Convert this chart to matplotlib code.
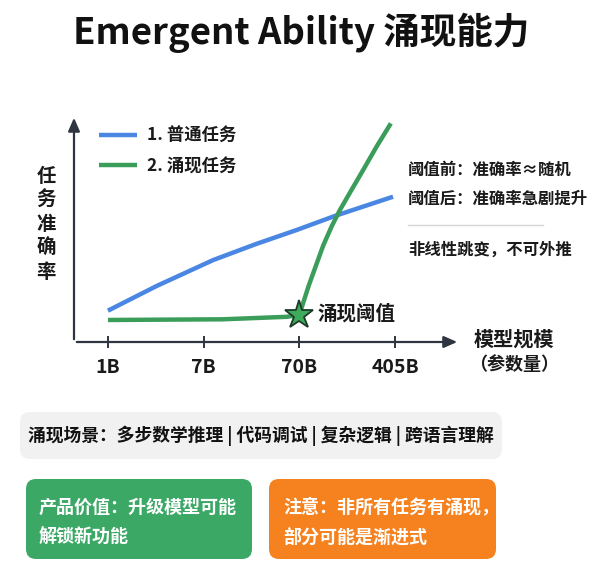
import matplotlib
matplotlib.use('Agg')
import matplotlib.pyplot as plt
from matplotlib.patches import FancyBboxPatch

plt.rcParams['font.family'] = ['Noto Sans CJK SC', 'DejaVu Sans']
plt.rcParams['font.weight'] = 'bold'

# 数据
model_sizes = ['1B', '7B', '70B', '405B']
normal_x = [0, 0.51, 1.10, 1.55, 1.97, 2.37, 2.98]
normal_y = [13.8, 24.7, 36.1, 43.2, 49.3, 55.5, 64.0]
emergent_x = [0, 1.2, 1.87, 2.0, 2.1, 2.25, 2.337, 2.424, 2.546, 2.668, 2.807, 2.957]
emergent_y = [9.7, 10.0, 11.1, 11.9, 25.0, 42.5, 50.8, 58.1, 67.0, 75.8, 86.0, 96.3]
threshold_x = [2]
threshold_y = [11.9]
series_labels = ['1. 普通任务', '2. 涌现任务']

BLUE = '#4a87e3'
GREEN = '#3a9d5a'
AXIS = '#2e3440'

W, H = 602, 570
fig = plt.figure(figsize=(W / 100, H / 100), dpi=100)
fig.patch.set_facecolor('white')

# 背景层，用像素坐标放文字和方框
bg = fig.add_axes([0, 0, 1, 1])
bg.set_xlim(0, W)
bg.set_ylim(H, 0)
bg.axis('off')

# 主图坐标轴
ax = fig.add_axes([74 / W, (H - 342) / H, 386 / W, 227 / H])
ax.set_xlim(-0.355, 3.68)
ax.set_ylim(0, 100)
ax.patch.set_alpha(0)
for s in ax.spines.values():
    s.set_visible(False)

ax.annotate('', xy=(0, 1), xytext=(0, 0), xycoords='axes fraction',
            arrowprops=dict(arrowstyle='-|>,head_length=0.8,head_width=0.35', color=AXIS, lw=1.6))
ax.annotate('', xy=(1, 0), xytext=(0, 0), xycoords='axes fraction',
            arrowprops=dict(arrowstyle='-|>,head_length=0.8,head_width=0.35', color=AXIS, lw=1.6))

ax.set_xticks(range(len(model_sizes)))
ax.set_xticklabels(model_sizes)
ax.set_yticks([])
ax.tick_params(axis='x', direction='inout', length=9, width=1.4, color=AXIS,
               labelsize=14, labelcolor='#1a1a1a', pad=7)

l1, = ax.plot(normal_x, normal_y, color=BLUE, lw=3.2, solid_capstyle='butt', label=series_labels[0])
l2, = ax.plot(emergent_x, emergent_y, color=GREEN, lw=3.2, solid_capstyle='butt', label=series_labels[1])
ax.plot(threshold_x, threshold_y, marker='*', ms=21, color='#3daa5c', mec='#1f3a2a', mew=1.3,
        zorder=5, clip_on=False)

leg = ax.legend(handles=[l1, l2], loc='upper left', frameon=False, fontsize=12.5,
                handlelength=2.2, handletextpad=0.55, labelspacing=0.7, borderpad=0,
                borderaxespad=0, bbox_to_anchor=(99 / W, 1 - 127 / H), bbox_transform=fig.transFigure)
for t in leg.get_texts():
    t.set_color('#1a1a1a')

# 标题
bg.text(301, 33, 'Emergent Ability 涌现能力', ha='center', va='center', fontsize=26.3,
        fontweight='bold', color='#111111')

# 纵轴标签
for i, ch in enumerate('任务准确率'):
    bg.text(46, 177 + i * 23.8, ch, ha='center', va='center', fontsize=14, color='#1a1a1a')

# 横轴标签
bg.text(514, 339, '模型规模', ha='center', va='center', fontsize=14.5, color='#1a1a1a')
bg.text(514, 365, '（参数量）', ha='center', va='center', fontsize=13, color='#1a1a1a')

# 涌现阈值标注
bg.text(317, 314, '涌现阈值', ha='left', va='center', fontsize=14, color='#1a1a1a')

# 右侧说明
bg.text(408, 170, '阈值前：准确率≈随机', ha='left', va='center', fontsize=11.8, color='#1a1a1a')
bg.text(408, 199, '阈值后：准确率急剧提升', ha='left', va='center', fontsize=11.8, color='#1a1a1a')
bg.plot([408, 543], [225, 225], color='#d6d6d6', lw=1)
bg.text(408, 250, '非线性跳变，不可外推', ha='left', va='center', fontsize=11.8, color='#1a1a1a')

# 底部方框
def box(x0, y0, x1, y1, color):
    p = FancyBboxPatch((x0, y0), x1 - x0, y1 - y0, boxstyle='round,pad=0,rounding_size=10',
                       fc=color, ec='none')
    bg.add_patch(p)

box(20, 412, 502, 459, '#f1f1f1')
bg.text(261, 436, '涌现场景：多步数学推理 | 代码调试 | 复杂逻辑 | 跨语言理解', ha='center', va='center',
        fontsize=12.8, color='#111111')

box(26, 479, 252, 559, '#3ba866')
bg.text(39, 507, '产品价值：升级模型可能', ha='left', va='center', fontsize=13, color='white')
bg.text(39, 537, '解锁新功能', ha='left', va='center', fontsize=13, color='white')

box(269, 479, 496, 559, '#f5821f')
bg.text(283, 507, '注意：非所有任务有涌现，', ha='left', va='center', fontsize=13, color='white')
bg.text(283, 537, '部分可能是渐进式', ha='left', va='center', fontsize=13, color='white')

fig.savefig('out.png', dpi=100, facecolor='white')
